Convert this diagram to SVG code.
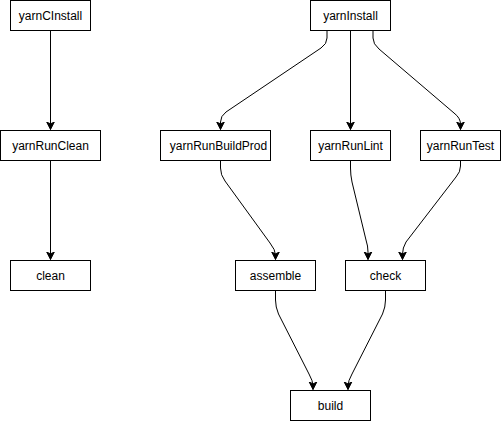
<svg xmlns="http://www.w3.org/2000/svg" width="501" height="421" viewBox="0 0 501 421">
<style>
.n rect{fill:#fff;stroke:#000;stroke-width:1}
.n text{font-family:"Liberation Sans",Arial,sans-serif;font-size:12px;fill:#000;text-anchor:middle;dominant-baseline:central}
.e path{fill:none;stroke:#000;stroke-width:1;marker-end:url(#a)}
</style>
<defs>
<marker id="a" markerUnits="userSpaceOnUse" markerWidth="10" markerHeight="10" viewBox="-8 -5 10 10" refX="0" refY="0" orient="auto">
<path d="M0,0 L-7.5,-3.8 L-5.6,0 L-7.5,3.8 Z" fill="#000" stroke="#000" stroke-width="1"/>
</marker>
</defs>
<rect width="501" height="421" fill="#fff"/>
<g class="e" id="connectors">
<path d="M50.5 30.5 V129.5"/>
<path d="M50.5 160.5 V259.5"/>
<path d="M327 30.5 V38 Q327 44 321 48 L226 112 Q220.5 116 220.5 122 V129.5"/>
<path d="M350.5 30.5 V129.5"/>
<path d="M373 30.5 V38 Q373 44 379 49 L454 113 Q460.5 118 460.5 124 V129.5"/>
<path d="M220.5 160.5 V168 Q220.5 175 225 181 L270 243 Q275.5 250 275.5 255 V259.5"/>
<path d="M350.5 160.5 V168 Q350.5 175 352 182 L366 240 Q368 246 368 252 V259.5"/>
<path d="M460.5 160.5 V166 Q460.5 172 456 177 L406 242 Q402.5 248 402.5 254 V259.5"/>
<path d="M275.5 290.5 V300 Q275.5 307 278.5 314 L309 374 Q313 381 313 386 V389.5"/>
<path d="M385.5 290.5 V300 Q385.5 307 382.5 314 L352 374 Q348 381 348 386 V389.5"/>
</g>
<g class="n" id="yarnCInstall"><rect x="10.5" y="0.5" width="80" height="30"/><text x="50.5" y="15.5">yarnCInstall</text></g>
<g class="n" id="yarnRunClean"><rect x="0.5" y="130.5" width="100" height="30"/><text x="50.5" y="145.5">yarnRunClean</text></g>
<g class="n" id="clean"><rect x="10.5" y="260.5" width="80" height="30"/><text x="50.5" y="275.5">clean</text></g>
<g class="n" id="yarnInstall"><rect x="310.5" y="0.5" width="80" height="30"/><text x="350.5" y="15.5">yarnInstall</text></g>
<g class="n" id="yarnRunBuildProd"><rect x="160.5" y="130.5" width="110" height="30"/><text x="218.5" y="145.5">yarnRunBuildProd</text></g>
<g class="n" id="yarnRunLint"><rect x="310.5" y="130.5" width="80" height="30"/><text x="350.5" y="145.5">yarnRunLint</text></g>
<g class="n" id="yarnRunTest"><rect x="420.5" y="130.5" width="80" height="30"/><text x="460.5" y="145.5">yarnRunTest</text></g>
<g class="n" id="assemble"><rect x="235.5" y="260.5" width="80" height="30"/><text x="275.5" y="275.5">assemble</text></g>
<g class="n" id="check"><rect x="345.5" y="260.5" width="80" height="30"/><text x="385.5" y="275.5">check</text></g>
<g class="n" id="build"><rect x="290.5" y="390.5" width="80" height="30"/><text x="330.5" y="405.5">build</text></g>
</svg>
